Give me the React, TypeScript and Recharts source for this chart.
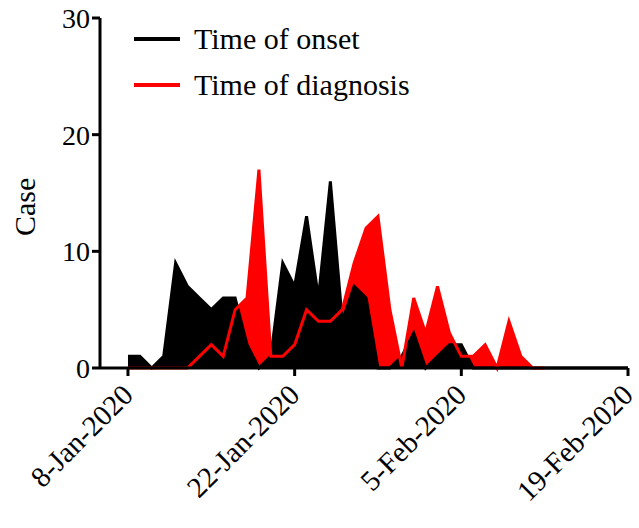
import { ComposedChart, Area, Line, XAxis, YAxis } from 'recharts';

const days = Array.from({ length: 43 }, (_, i) => i);
const onset = [1, 1, 0, 1, 9, 7, 6, 5, 6, 6, 2, 0, 1, 9, 7, 13, 6, 16, 4, 7, 6, 0, 0, 1, 3, 0, 1, 2, 2, 0, 0, 0, 0, 0, 0, 0, 0, 0, 0, 0, 0, 0, 0];
const diagnosis = [0, 0, 0, 0, 0, 0, 1, 2, 1, 5, 6, 17, 1, 1, 2, 5, 4, 4, 5, 9, 12, 13, 5, 0, 6, 3, 7, 3, 1, 1, 2, 0, 4, 1, 0, 0];
const tickDays = [0, 14, 28, 42];
const tickLabels = ['8-Jan-2020', '22-Jan-2020', '5-Feb-2020', '19-Feb-2020'];

const data = days.map(d => ({ day: d, onset: onset[d], diagnosis: diagnosis[d] }));

const font = '"Liberation Serif", "Times New Roman", serif';

const DateTick = ({ x, y, payload }: any) => (
  <text x={x + 2} y={y + 14} transform={`rotate(-45, ${x + 2}, ${y + 14})`} textAnchor="end" dominantBaseline="middle"
    fontFamily={font} fontSize={29} fill="#000">
    {tickLabels[tickDays.indexOf(payload.value)]}
  </text>
);

export default function App() {
  return (
    <div style={{ position: 'absolute', left: 0, top: 0, width: 639, height: 528, background: '#fff' }}>
      <ComposedChart width={639} height={528} data={data} margin={{ top: 18, right: 11, bottom: 0, left: 40 }}>
        <XAxis dataKey="day" type="number" domain={[-2.35, 42]} ticks={tickDays} interval={0}
          tick={<DateTick />} height={160} axisLine={{ stroke: '#000', strokeWidth: 3 }}
          tickLine={{ stroke: '#000', strokeWidth: 3 }} tickSize={8} />
        <YAxis type="number" domain={[0, 30]} ticks={[0, 10, 20, 30]} width={60}
          axisLine={{ stroke: '#000', strokeWidth: 3 }} tickLine={{ stroke: '#000', strokeWidth: 3 }} tickSize={8}
          tick={{ fontFamily: font, fontSize: 28, fill: '#000' }} />
        <Area dataKey="diagnosis" type="linear" fill="#ff0000" fillOpacity={1} stroke="none" isAnimationActive={false} />
        <Area dataKey="onset" type="linear" fill="#000" fillOpacity={1} stroke="#000" strokeWidth={3} isAnimationActive={false} />
        <Line dataKey="diagnosis" type="linear" stroke="#ff0000" strokeWidth={3} dot={false} isAnimationActive={false} />
      </ComposedChart>
      <div style={{ position: 'absolute', left: 10, top: 236, transform: 'rotate(-90deg)', transformOrigin: 'left top',
        fontFamily: font, fontSize: 30, lineHeight: '30px' }}>
        Case
      </div>
      <div style={{ position: 'absolute', left: 134, top: 20, fontFamily: font, fontSize: 30, lineHeight: '38px' }}>
        <div style={{ display: 'flex', alignItems: 'center' }}>
          <span style={{ display: 'inline-block', width: 46, height: 4, background: '#000', marginRight: 14 }} />Time of onset
        </div>
        <div style={{ display: 'flex', alignItems: 'center', marginTop: 8 }}>
          <span style={{ display: 'inline-block', width: 46, height: 4, background: '#ff0000', marginRight: 14 }} />Time of diagnosis
        </div>
      </div>
    </div>
  );
}
